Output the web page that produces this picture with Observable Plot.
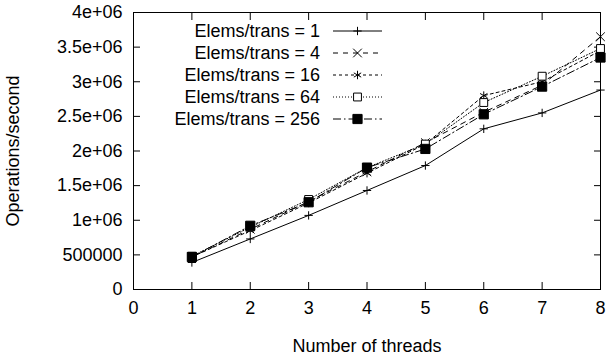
<!DOCTYPE html>
<html><head><meta charset="utf-8">
<script src="https://cdn.jsdelivr.net/npm/d3@7"></script>
<script src="https://cdn.jsdelivr.net/npm/@observablehq/plot@0.6"></script>
<style>
body{margin:0;background:#fff;}
</style></head><body><div id="chart"></div>
<script>
const threads = [1, 2, 3, 4, 5, 6, 7, 8];
const seriesNames = ["Elems/trans = 1", "Elems/trans = 4", "Elems/trans = 16", "Elems/trans = 64", "Elems/trans = 256"];
const opsElems1   = [390000, 730000, 1070000, 1430000, 1790000, 2320000, 2550000, 2880000];
const opsElems4   = [470000, 870000, 1270000, 1700000, 2120000, 2560000, 2950000, 3650000];
const opsElems16  = [470000, 850000, 1250000, 1680000, 2100000, 2800000, 3000000, 3450000];
const opsElems64  = [480000, 900000, 1300000, 1760000, 2100000, 2700000, 3080000, 3480000];
const opsElems256 = [470000, 920000, 1260000, 1760000, 2030000, 2530000, 2930000, 3350000];
const xTicks = [0, 1, 2, 3, 4, 5, 6, 7, 8];
const yTicks = [0, 500000, 1000000, 1500000, 2000000, 2500000, 3000000, 3500000, 4000000];
const yTickLabels = ["0", "500000", "1e+06", "1.5e+06", "2e+06", "2.5e+06", "3e+06", "3.5e+06", "4e+06"];

const seriesValues = [opsElems1, opsElems4, opsElems16, opsElems64, opsElems256];
const styles = [
  {symbol: "plus", r: 2.8, fill: "none", dash: null},
  {symbol: "times", r: 4, fill: "none", dash: "5,5"},
  {symbol: "asterisk", r: 4, fill: "none", dash: "3,3"},
  {symbol: "square2", r: 5, fill: "white", dash: "1,2"},
  {symbol: "square", r: 5.2, fill: "black", dash: "8,3,1.5,3"}
];
const d3Symbols = {plus: d3.symbolPlus, times: d3.symbolTimes, asterisk: d3.symbolAsterisk, square2: d3.symbolSquare2, square: d3.symbolSquare};

const rows = seriesNames.map((name, i) => threads.map((t, j) => ({threads: t, ops: seriesValues[i][j], series: name})));

function legend(index, scales, values, dimensions) {
  const g = d3.create("svg:g");
  const x0 = dimensions.marginLeft;
  const y0 = dimensions.marginTop;
  seriesNames.forEach((name, i) => {
    const y = y0 + 19 + 22 * i;
    const s = styles[i];
    g.append("text").attr("x", x0 + 187).attr("y", y).attr("dy", "0.35em")
      .attr("text-anchor", "end").attr("fill", "black").text(name);
    g.append("line").attr("x1", x0 + 200).attr("x2", x0 + 249).attr("y1", y).attr("y2", y)
      .attr("stroke", "black").attr("stroke-width", 1).attr("stroke-dasharray", s.dash);
    g.append("path").attr("transform", `translate(${x0 + 224.5},${y})`)
      .attr("d", d3.symbol(d3Symbols[s.symbol], s.r * s.r * Math.PI)())
      .attr("fill", s.fill === "none" ? "none" : s.fill).attr("stroke", "black").attr("stroke-width", 1);
  });
  return g.node();
}

const marks = [
  Plot.axisX(xTicks, {anchor: "bottom", tickSize: -7, tickPadding: 19, label: "Number of threads", labelAnchor: "center", labelOffset: 62, labelArrow: "none"}),
  Plot.axisX(xTicks, {anchor: "top", tickSize: -7, tickFormat: () => "", label: null}),
  Plot.axisY(yTicks, {anchor: "left", tickSize: -7, tickPadding: 18, tickFormat: (d, i) => yTickLabels[yTicks.indexOf(d)], label: "Operations/second", labelAnchor: "center", labelOffset: 127, labelArrow: "none"}),
  Plot.axisY(yTicks, {anchor: "right", tickSize: -7, tickFormat: () => "", label: null}),
  Plot.frame({stroke: "black", strokeWidth: 1})
];
rows.forEach((data, i) => {
  const s = styles[i];
  marks.push(Plot.line(data, {x: "threads", y: "ops", stroke: "black", strokeWidth: 1, strokeDasharray: s.dash}));
});
rows.forEach((data, i) => {
  const s = styles[i];
  marks.push(Plot.dot(data, {x: "threads", y: "ops", symbol: () => s.symbol, r: s.r, stroke: "black", strokeWidth: 1, fill: s.fill}));
});
marks.push(legend);

const chart = Plot.plot({
  width: 608,
  height: 358,
  marginLeft: 133,
  marginRight: 8,
  marginTop: 12,
  marginBottom: 69,
  style: {fontSize: "18px", fontFamily: "'Liberation Sans', Arial, sans-serif", color: "black", background: "white", overflow: "visible"},
  x: {domain: [0, 8]},
  y: {domain: [0, 4000000]},
  symbol: {type: "identity"},
  marks
});
document.getElementById("chart").appendChild(chart);
</script>
</body></html>
